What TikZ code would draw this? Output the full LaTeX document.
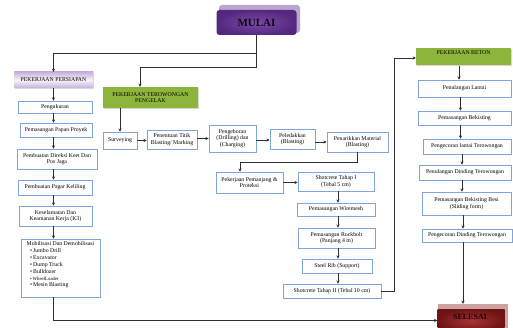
\documentclass[tikz,border=0pt]{standalone}
\usepackage{fontspec}
\setmainfont{Liberation Serif}
\usetikzlibrary{arrows.meta,shadows,calc}
\definecolor{bluebd}{HTML}{7EA6DA}
\definecolor{linec}{HTML}{303030}
\definecolor{grn}{HTML}{8DB53C}
\definecolor{purpin}{HTML}{7B4AA9}
\definecolor{purpout}{HTML}{55287F}
\definecolor{purpsh}{HTML}{B9A6CE}
\definecolor{lav}{HTML}{C6B0DE}
\definecolor{redin}{HTML}{A83434}
\definecolor{redout}{HTML}{6E1414}
\definecolor{redsh}{HTML}{CFA2A2}
\newcommand\fsm{\fontsize{5.8}{6.4}\selectfont}
\begin{document}
\begin{tikzpicture}[x=1pt,y=-1pt,
  bx/.style={draw=bluebd, line width=0.7pt, fill=white,
    drop shadow={shadow xshift=0.8pt, shadow yshift=-0.8pt, opacity=0.35},
    inner sep=0.5pt, align=center, font=\fsm, text=black},
  gbox/.style={fill=grn, drop shadow={shadow xshift=0.8pt, shadow yshift=-0.8pt, opacity=0.3},
    inner sep=0.5pt, align=center, font=\fsm},
  line/.style={draw=linec, line width=0.8pt},
  arr/.style={line, -{Stealth[length=3.2pt,width=3.2pt]}},
  txt/.style={inner sep=0pt, font=\fsm, align=center}]
\useasboundingbox (0,0) rectangle (513,328);
\fill[white] (0,0) rectangle (513,328);

% MULAI
\node[rounded corners=3pt, fill=purpsh, minimum width=81pt, minimum height=28pt] (mulaish) at (259.5,19) {};
\node[rounded corners=3pt, shading=radial, inner color=purpin, outer color=purpout,
  minimum width=80pt, minimum height=25pt, font=\fontsize{11}{12}\selectfont\bfseries, text=black!85!purpout] (mulai) at (256.5,22.5) {MULAI};

% Persiapan column
\node[top color=lav, bottom color=lav, middle color=white!85!lav, minimum width=79pt, minimum height=16pt,
  font=\fsm, inner sep=0.5pt, drop shadow={shadow xshift=0.8pt, shadow yshift=-0.8pt, opacity=0.3}] (persiapan) at (53.5,80) {PEKERJAAN PERSIAPAN};
\node[bx, minimum width=74pt, minimum height=12pt] (peng) at (55,107) {Pengukuran};
\node[bx, minimum width=72pt, minimum height=14pt] (papan) at (56,130) {Pemasangan Papan Proyek};
\node[bx, minimum width=80pt, minimum height=20pt] (direksi) at (57,159) {Pembuatan Direksi Keet Dan\\Pos Jaga};
\node[bx, minimum width=74pt, minimum height=15pt] (pagar) at (55,187.5) {Pembuatan Pagar Keliling};
\node[bx, minimum width=73pt, minimum height=20pt] (k3) at (55.5,216) {Keselamatan Dan\\Keamanan Kerja (K3)};
\node[bx, minimum width=79pt, minimum height=58pt] (mobil) at (60.5,268) {};
\node[txt] (mobtitle) at (60.5,244) {Mobilisasi Dan Demobilisasi};
\node[txt, anchor=north west, align=left, font=\fontsize{5.8}{7}\selectfont] (moblist) at (30,248.5)
  {\textbullet\,Jumbo Drill\\ \textbullet\,Excavator\\ \textbullet\,Dump Truck\\ \textbullet\,Bulldozer\\
   {\fontsize{4.8}{7}\selectfont\textbullet\,WheelLoader}\\[-1pt] \textbullet\,Mesin Blasting};

% Terowongan
\node[gbox, minimum width=95pt, minimum height=21pt] (tero) at (150.5,97.5) {PEKERJAAN TEROWONGAN\\PENGELAK};
\node[bx, minimum width=34pt, minimum height=17pt] (survey) at (120,140.5) {Surveying};
\node[bx, minimum width=50pt, minimum height=19pt] (titik) at (172,139.5) {Penentuan Titik\\Blasting/ Marking};
\node[bx, minimum width=47pt, minimum height=27pt] (bor) at (232.5,138.5) {Pengeboran\\(Drilling) dan\\(Charging)};
\node[bx, minimum width=45pt, minimum height=20pt] (ledak) at (292.5,139) {Peledakkan\\(Blasting)};
\node[bx, minimum width=61pt, minimum height=20pt] (tarik) at (357.5,142) {Penarikkan Material\\(Blasting)};
\node[bx, minimum width=67pt, minimum height=21pt] (pemanjang) at (249.5,182.5) {Pekerjaan Pemanjang \&\\Proteksi};
\node[bx, minimum width=76pt, minimum height=19pt] (shot1) at (336,181.5) {Shotcrete Tahap I\\(Tebal 5 cm)};
\node[bx, minimum width=78pt, minimum height=13pt] (wire) at (336,209.5) {Pemasangan Wiremesh};
\node[bx, minimum width=77pt, minimum height=20pt] (rock) at (336.5,238) {Pemasangan Rockbolt\\(Panjang 4 m)};
\node[bx, minimum width=70pt, minimum height=14pt] (steel) at (337,266) {Steel Rib (Support)};
\node[bx, minimum width=98pt, minimum height=14pt] (shot2) at (332,291) {Shotcrete Tahap II (Tebal 10 cm)};

% Beton
\node[gbox, minimum width=95pt, minimum height=17pt] (beton) at (463.5,57) {};
\node[txt] (betontxt) at (463.5,53) {PEKERJAAN BETON};
\node[bx, minimum width=93pt, minimum height=17pt] (lantai) at (464.5,88.5) {Penulangan Lantai};
\node[bx, minimum width=93pt, minimum height=14pt] (bek) at (464.5,118) {Pemasangan Bekisting};
\node[bx, minimum width=88pt, minimum height=15pt] (cor1) at (467,146.5) {Pengecoran lantai Terowongan};
\node[bx, minimum width=92pt, minimum height=15pt] (dind) at (465,172.5) {Penulangan Dinding Terowongan};
\node[bx, minimum width=89pt, minimum height=23pt] (besi) at (466.5,203.5) {Pemasangan Bekisting Besi\\(Sliding form)};
\node[bx, minimum width=90pt, minimum height=13pt] (cor2) at (467,235.5) {Pengecoran Dinding Terowongan};

% Selesai
\node[fill=redsh, minimum width=70pt, minimum height=26pt] (selsh) at (473,317) {};
\node[shading=radial, inner color=redin, outer color=redout, minimum width=67pt, minimum height=23pt] (selesai) at (471,320.5) {};
\node[inner sep=0pt, font=\fontsize{8}{9}\selectfont\bfseries, text=black!90!red] (seltxt) at (470,317) {SELESAI};

% Connectors
\coordinate (j1) at (256.5,53);
\coordinate (j2) at (256.5,67);
\draw[line] (mulai.south) -- (j2);
\draw[arr] (j1) -| (persiapan.north);
\draw[arr] (j2) -| ([xshift=-10.5pt]tero.north);

\draw[arr] (persiapan.south) -- (persiapan.south |- peng.north);
\draw[arr] (peng.south -| persiapan.south) -- (persiapan.south |- papan.north);
\draw[arr] (papan.south -| persiapan.south) -- (persiapan.south |- direksi.north);
\draw[arr] (direksi.south -| persiapan.south) -- (persiapan.south |- pagar.north);
\draw[arr] (pagar.south -| persiapan.south) -- (persiapan.south |- k3.north);
\draw[arr] (k3.south -| persiapan.south) -- (persiapan.south |- mobil.north);
\draw[arr] (mobil.south -| persiapan.south) |- (selesai.west);

\draw[arr] (tero.south -| survey.north) -- (survey.north);
\draw[arr] (survey.east) -- (survey.east -| titik.west);
\draw[arr] ([yshift=1pt]titik.east) -- ([yshift=1pt]titik.east -| bor.west);
\draw[arr] ([yshift=-1.5pt]bor.east) -- ([yshift=-1.5pt]bor.east -| ledak.west);
\draw[arr] ([yshift=-3pt]ledak.east) -- ([yshift=-3pt]ledak.east -| tarik.west);
\draw[arr] (tarik.south) -- ([yshift=-10pt]tarik.south) -| ([xshift=-9.5pt]pemanjang.north);
\draw[arr] (pemanjang.east) -- (pemanjang.east -| shot1.west);
\draw[arr] ([xshift=2pt]shot1.south) -- ([xshift=2pt]shot1.south |- wire.north);
\draw[arr] ([xshift=2pt]wire.south) -- ([xshift=2pt]wire.south |- rock.north);
\draw[arr] ([xshift=1.5pt]rock.south) -- ([xshift=1.5pt]rock.south |- steel.north);
\draw[arr] ([xshift=1pt]steel.south) -- ([xshift=1pt]steel.south |- shot2.north);
\coordinate (vx) at (394,58);
\draw[arr] (shot2.east) -| (vx) -- (vx -| beton.west);

\draw[arr] ([xshift=-4.5pt]beton.south) -- ([xshift=-4.5pt]beton.south |- lantai.north);
\draw[arr] ([xshift=-4pt]lantai.south) -- ([xshift=-4pt]lantai.south |- bek.north);
\draw[arr] ([xshift=-4pt]bek.south) -- ([xshift=-4pt]bek.south |- cor1.north);
\draw[arr] ([xshift=-5pt]cor1.south) -- ([xshift=-5pt]cor1.south |- dind.north);
\draw[arr] ([xshift=-3pt]dind.south) -- ([xshift=-3pt]dind.south |- besi.north);
\draw[arr] ([xshift=-3.5pt]besi.south) -- ([xshift=-3.5pt]besi.south |- cor2.north);
\draw[arr] ([xshift=-4pt]cor2.south) -- ([xshift=-4pt]cor2.south |- selsh.north);
\end{tikzpicture}
\end{document}
